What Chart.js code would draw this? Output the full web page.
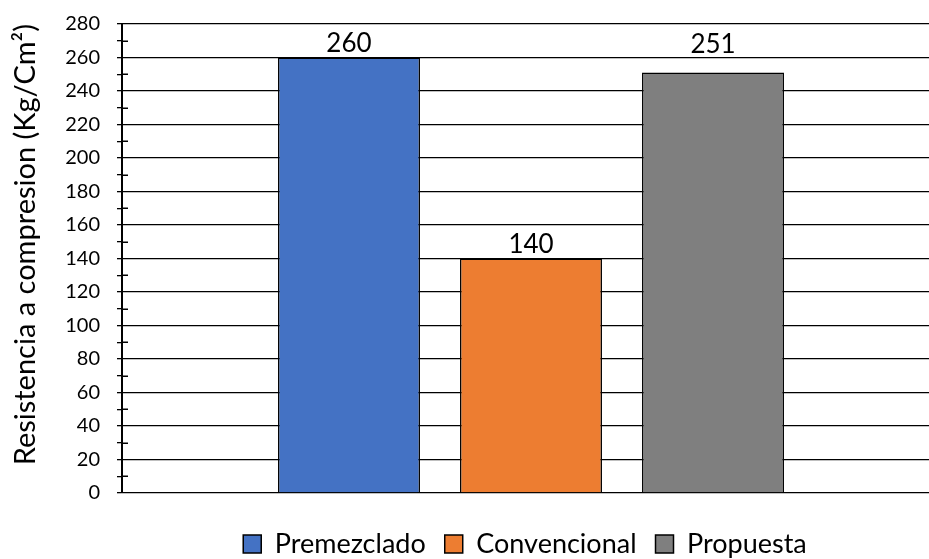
<!DOCTYPE html>
<html>
<head>
<meta charset="utf-8">
<script src="https://cdn.jsdelivr.net/npm/chart.js@4.4.1/dist/chart.umd.min.js"></script>
<style>
  html, body { margin: 0; padding: 0; background: #fff; overflow: hidden; }
  #wrap { width: 940px; height: 559px; position: relative; }
</style>
</head>
<body>
<div id="wrap"><canvas id="c"></canvas></div>
<script>
const categories = [''];
const seriesNames = ['Premezclado', 'Convencional', 'Propuesta'];
const seriesValues = [[260], [140], [251]];
const seriesColors = ['#4472C4', '#ED7D31', '#7F7F7F'];
const yTitle = 'Resistencia a compresion (Kg/Cm²)';
const yMin = 0, yMax = 280, yMajor = 20, yMinor = 10;

const FONT = 'Lato, "Open Sans", sans-serif';
const labelGap = [14, 14, 28];

const valueLabels = {
  id: 'valueLabels',
  afterDatasetsDraw(chart) {
    const ctx = chart.ctx;
    ctx.save();
    ctx.font = '26px ' + FONT;
    ctx.fillStyle = '#000';
    ctx.textAlign = 'center';
    ctx.textBaseline = 'middle';
    chart.data.datasets.forEach((ds, i) => {
      const meta = chart.getDatasetMeta(i);
      meta.data.forEach((bar, j) => {
        ctx.fillText(String(ds.data[j]), bar.x, bar.y - labelGap[i]);
      });
    });
    ctx.restore();
  }
};

const minorTicks = {
  id: 'minorTicks',
  afterDraw(chart) {
    const s = chart.scales.y;
    const ctx = chart.ctx;
    const x0 = chart.chartArea.left;
    ctx.save();
    ctx.strokeStyle = '#000';
    ctx.lineWidth = 1.5;
    for (let v = yMin + yMinor; v < yMax; v += yMajor) {
      const y = Math.round(s.getPixelForValue(v)) + 0.25;
      ctx.beginPath();
      ctx.moveTo(x0, y);
      ctx.lineTo(x0 + 6, y);
      ctx.stroke();
    }
    ctx.restore();
  }
};

const shiftLegend = {
  id: 'shiftLegend',
  afterLayout(chart) {
    const lg = chart.legend;
    if (!lg) return;
    const pad = lg.options.labels.padding;
    const fs = lg.options.labels.font.size;
    const dx = 525 - (lg.left + lg.right) / 2;
    const dy = 544 - (lg.top + pad + fs / 2);
    lg.left += dx; lg.right += dx;
    lg.top += dy; lg.bottom += dy;
    lg.adjustHitBoxes && lg.adjustHitBoxes();
  }
};

new Chart(document.getElementById('c'), {
  type: 'bar',
  data: {
    labels: categories,
    datasets: seriesNames.map((n, i) => ({
      label: n,
      data: seriesValues[i],
      backgroundColor: seriesColors[i],
      borderColor: '#000',
      borderWidth: 1.5,
      categoryPercentage: 0.6675,
      barPercentage: 0.78
    }))
  },
  options: {
    responsive: true,
    maintainAspectRatio: false,
    animation: false,
    layout: { padding: { top: 24, left: 0, right: 0, bottom: 10 } },
    plugins: {
      legend: {
        position: 'bottom',
        labels: {
          font: { family: FONT, size: 27 },
          color: '#000',
          boxWidth: 18,
          boxHeight: 18,
          padding: 19
        }
      },
      tooltip: { enabled: false }
    },
    scales: {
      x: {
        display: false
      },
      y: {
        min: yMin,
        max: yMax,
        afterFit(scale) { scale.width = 122; scale.paddingTop = 0; },
        border: { color: '#000', width: 2 },
        grid: {
          color: (c) => (c.tick && c.tick.value % yMajor === 0) ? '#000' : 'rgba(0,0,0,0)',
          tickColor: '#000',
          lineWidth: 1.3,
          tickLength: 5,
          drawTicks: true
        },
        ticks: {
          stepSize: yMinor,
          autoSkip: false,
          padding: 17,
          color: '#000',
          font: { family: FONT, size: 20 },
          callback: (v) => (v % yMajor === 0 ? String(v) : '')
        },
        title: {
          display: true,
          text: yTitle,
          align: 'end',
          color: '#000',
          font: { family: FONT, size: 29 },
          padding: { top: 8, bottom: 0 }
        }
      }
    }
  },
  plugins: [valueLabels, minorTicks, shiftLegend]
});
</script>
</body>
</html>
